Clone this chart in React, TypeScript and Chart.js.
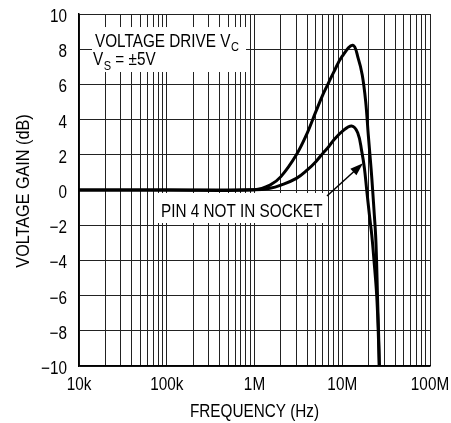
import { useEffect, useRef } from 'react';
import { Chart, registerables } from 'chart.js';

Chart.register(...registerables);

// ---- data ----
const decadeFreqs = [1e4, 1e5, 1e6, 1e7, 1e8];
const decadeLabels = ['10k', '100k', '1M', '10M', '100M'];
const minorMultipliers = [2, 3, 4, 5, 6, 7, 8, 9];
const gainTicks = [-10, -8, -6, -4, -2, 0, 2, 4, 6, 8, 10];

const upperFreq = [1e4, 1e5, 1e6, 1.5e6, 2e6, 3e6, 4e6, 5e6, 6e6, 7e6, 8e6, 10e6, 13.2e6, 15.2e6, 16.9e6, 18.5e6, 19.8e6, 21.3e6, 22.2e6, 23.2e6, 24.0e6, 24.6e6, 25.2e6, 25.9e6, 26.5e6];
const upperGain = [0, 0, 0.02, 0.28, 0.76, 2.0, 3.25, 4.45, 5.4, 6.1, 6.7, 7.6, 8.22, 7.48, 6.53, 5.02, 3.13, 1.23, 0, -1.42, -2.56, -4, -6, -8, -10];

const lowerFreq = [1e4, 1e5, 1e6, 1.5e6, 2e6, 3e6, 4e6, 5e6, 6e6, 7e6, 8e6, 10e6, 12.8e6, 15.0e6, 16.7e6, 17.9e6, 19.0e6, 20.4e6, 21.7e6, 23.0e6, 24.7e6, 25.7e6, 26.4e6];
const lowerGain = [0, 0, 0.01, 0.1, 0.28, 0.66, 1.14, 1.61, 2.08, 2.46, 2.84, 3.33, 3.64, 3.25, 2.18, 1.23, 0, -1.42, -2.56, -4, -6, -8, -10];

const xTitle = 'FREQUENCY (Hz)';
const yTitle = 'VOLTAGE GAIN (dB)';
const noteLine1 = [{ t: 'VOLTAGE DRIVE V', sub: false }, { t: 'C', sub: true }];
const noteLine2 = [{ t: 'V', sub: false }, { t: 'S', sub: true }, { t: ' = ±5V', sub: false }];
const noteSocket = 'PIN 4 NOT IN SOCKET';

const FONT = '"Liberation Sans", Arial, sans-serif';
const MAIN_SIZE = 18;
const SUB_SIZE = 13;
const SX = 0.85; // horizontal condensing of the text face

const gridFreqs = decadeFreqs.flatMap((d, i) =>
  i < decadeFreqs.length - 1 ? [d, ...minorMultipliers.map((m) => d * m)] : [d]
);

const gainLabel = (n: number) => (n < 0 ? '\u2212' + Math.abs(n) : String(n));

function drawText(
  ctx: CanvasRenderingContext2D,
  text: string,
  x: number,
  y: number,
  size: number,
  align: CanvasTextAlign,
  sx = SX,
  rotate = 0
) {
  ctx.save();
  ctx.translate(x, y);
  if (rotate) ctx.rotate(rotate);
  ctx.scale(sx, 1);
  ctx.font = `${size}px ${FONT}`;
  ctx.textAlign = align;
  ctx.textBaseline = 'alphabetic';
  ctx.fillStyle = '#000';
  ctx.fillText(text, 0, 0);
  ctx.restore();
}

function textWidth(ctx: CanvasRenderingContext2D, text: string, size: number, sx = SX) {
  ctx.save();
  ctx.font = `${size}px ${FONT}`;
  const w = ctx.measureText(text).width * sx;
  ctx.restore();
  return w;
}

const textPlugin = {
  id: 'texts',
  beforeDatasetsDraw(chart: any) {
    const { ctx } = chart;
    const xs = chart.scales.x;
    const ys = chart.scales.y;
    const X = (f: number) => xs.getPixelForValue(f);
    const Y = (g: number) => ys.getPixelForValue(g);
    ctx.save();
    ctx.fillStyle = '#fff';
    ctx.fillRect(X(14066), Y(9.26), X(8.0e5) - X(14066), Y(6.705) - Y(9.26));
    ctx.fillRect(X(73470), Y(-0.17), X(6.36e6) - X(73470), Y(-1.875) - Y(-0.17));
    ctx.restore();

    const drawRuns = (runs: { t: string; sub: boolean }[], x0: number, y0: number) => {
      let x = x0;
      for (const r of runs) {
        const size = r.sub ? SUB_SIZE : MAIN_SIZE;
        drawText(ctx, r.t, x, r.sub ? y0 + 4.5 : y0, size, 'left');
        x += textWidth(ctx, r.t, size) + (r.sub ? 0 : 0.5);
      }
    };
    drawRuns(noteLine1, X(15215), Y(8.142));
    drawRuns(noteLine2, X(14439), Y(7.102));
    drawText(ctx, noteSocket, X(86000), Y(-1.517), MAIN_SIZE, 'left');
  },
  afterDatasetsDraw(chart: any) {
    const { ctx, chartArea } = chart;
    const xs = chart.scales.x;
    const ys = chart.scales.y;

    // arrow
    const x0 = xs.getPixelForValue(6.7e6);
    const y0 = ys.getPixelForValue(-0.34);
    const x1 = xs.getPixelForValue(1.724e7);
    const y1 = ys.getPixelForValue(1.517);
    const ang = Math.atan2(y1 - y0, x1 - x0);
    const headLen = 13;
    const headW = 4.5;
    ctx.save();
    ctx.strokeStyle = '#000';
    ctx.fillStyle = '#000';
    ctx.lineWidth = 1.5;
    ctx.beginPath();
    ctx.moveTo(x0, y0);
    ctx.lineTo(x1 - Math.cos(ang) * headLen * 0.8, y1 - Math.sin(ang) * headLen * 0.8);
    ctx.stroke();
    const bx = x1 - Math.cos(ang) * headLen;
    const by = y1 - Math.sin(ang) * headLen;
    ctx.beginPath();
    ctx.moveTo(x1, y1);
    ctx.lineTo(bx + Math.sin(ang) * headW, by - Math.cos(ang) * headW);
    ctx.lineTo(bx - Math.sin(ang) * headW, by + Math.cos(ang) * headW);
    ctx.closePath();
    ctx.fill();
    ctx.restore();

    // tick labels
    decadeFreqs.forEach((f, i) => {
      drawText(ctx, decadeLabels[i], xs.getPixelForValue(f), chartArea.bottom + 23.5, MAIN_SIZE, 'center');
    });
    gainTicks.forEach((g) => {
      drawText(ctx, gainLabel(g), chartArea.left - 12, ys.getPixelForValue(g) + 8, MAIN_SIZE, 'right');
    });

    // axis titles
    const cx = (chartArea.left + chartArea.right) / 2;
    const cy = (chartArea.top + chartArea.bottom) / 2;
    drawText(ctx, xTitle, cx, chartArea.bottom + 50.5, MAIN_SIZE, 'center');
    drawText(ctx, yTitle, 28.5, cy + 1, MAIN_SIZE, 'center', 0.9, -Math.PI / 2);
  },
};

export default function App() {
  const ref = useRef<HTMLCanvasElement | null>(null);

  useEffect(() => {
    document.body.style.margin = '0';
    const canvas = ref.current;
    if (!canvas) return;
    const lineStyle = {
      borderColor: '#000',
      borderWidth: 3,
      pointRadius: 0,
      fill: false,
      tension: 0.4,
    };
    const chart = new Chart(canvas, {
      type: 'line',
      data: {
        datasets: [
          {
            label: 'Voltage drive',
            data: upperFreq.map((f, i) => ({ x: f, y: upperGain[i] })),
            ...lineStyle,
          },
          {
            label: 'Pin 4 not in socket',
            data: lowerFreq.map((f, i) => ({ x: f, y: lowerGain[i] })),
            ...lineStyle,
          },
        ],
      },
      options: {
        animation: false,
        responsive: false,
        maintainAspectRatio: false,
        layout: { padding: { left: 0, right: 21, top: 14, bottom: 0 } },
        plugins: {
          legend: { display: false },
          tooltip: { enabled: false },
        },
        scales: {
          x: {
            type: 'logarithmic',
            min: 1e4,
            max: 1e8,
            afterBuildTicks: (scale: any) => {
              scale.ticks = gridFreqs.map((v) => ({ value: v, major: decadeFreqs.includes(v) }));
            },
            afterFit: (scale: any) => {
              scale.height = 57;
            },
            ticks: { display: false, autoSkip: false },
            grid: { color: '#222', lineWidth: 1, drawTicks: false },
            border: { display: true, color: '#000', width: 1.5 },
            title: { display: false },
          },
          y: {
            type: 'linear',
            min: -10,
            max: 10,
            afterBuildTicks: (scale: any) => {
              scale.ticks = gainTicks.map((v) => ({ value: v }));
            },
            afterFit: (scale: any) => {
              scale.width = 79;
            },
            ticks: { display: false },
            grid: { color: '#222', lineWidth: 1, drawTicks: false },
            border: { display: true, color: '#000', width: 1.5 },
            title: { display: false },
          },
        },
      },
      plugins: [textPlugin],
    } as any);
    return () => chart.destroy();
  }, []);

  return (
    <div style={{ width: 451, height: 423, background: '#fff' }}>
      <canvas ref={ref} width={451} height={423} style={{ width: 451, height: 423, display: 'block' }} />
    </div>
  );
}
